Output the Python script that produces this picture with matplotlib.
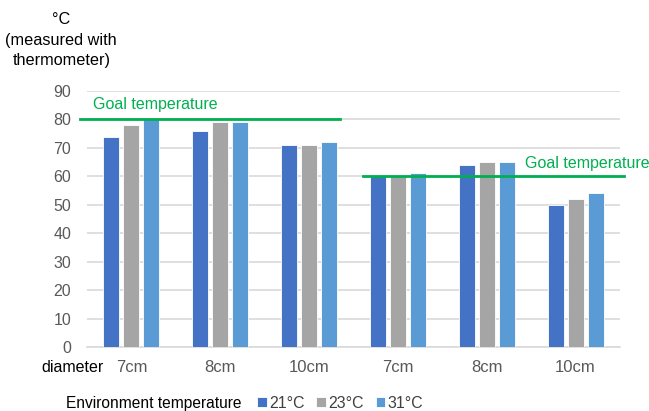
""" goal temperature bar chart """

import numpy as np
from matplotlib import pyplot as plt

# data
diameters = ['7cm', '8cm', '10cm', '7cm', '8cm', '10cm']
env_labels = ['21°C', '23°C', '31°C']
t21 = [74, 76, 71, 60, 64, 50]
t23 = [78, 79, 71, 60, 65, 52]
t31 = [80, 79, 72, 61, 65, 54]
goal_high = 80
goal_low = 60

colors = ['#4472C4', '#A5A5A5', '#5B9BD5']
green = '#00B050'
grey_txt = '#595959'

plt.rcParams['font.family'] = ['Liberation Sans', 'DejaVu Sans']

fig = plt.figure(figsize=(6.49, 4.11), dpi=100)
ax = fig.add_axes([87 / 649, 1 - 347 / 411, 533 / 649, 256 / 411])

x = np.arange(len(diameters))
w = 0.18
step = 0.225
for i, (vals, c, lab) in enumerate(zip([t21, t23, t31], colors, env_labels)):
    ax.bar(x + (i - 1) * step, vals, w, color=c, label=lab,
           edgecolor='white', linewidth=0.6, zorder=3)

ax.set_xlim(-0.5, 5.5)
ax.set_ylim(0, 90)
ax.set_yticks(range(0, 91, 10))
ax.grid(axis='y', color='#D9D9D9', linewidth=1.2, zorder=0)
for s in ['top', 'right', 'left']:
    ax.spines[s].set_visible(False)
ax.spines['bottom'].set_color('#D9D9D9')
ax.spines['bottom'].set_linewidth(1.2)
ax.tick_params(axis='both', length=0, labelcolor=grey_txt)
ax.tick_params(axis='y', pad=11.5, labelsize=11.5)
ax.tick_params(axis='x', pad=9, labelsize=12)
ax.set_xticks(x)
ax.set_xticklabels(diameters)

# goal lines
ax.plot([-0.58, 2.35], [goal_high, goal_high], color=green, lw=2,
        clip_on=False, zorder=4)
ax.plot([2.61, 5.54], [goal_low, goal_low], color=green, lw=2,
        clip_on=False, zorder=4)
fig.text(93 / 649, 1 - 104 / 411, 'Goal temperature', color=green,
         fontsize=11.5, va='center')
fig.text(525 / 649, 1 - 163 / 411, 'Goal temperature', color=green,
         fontsize=11.5, va='center')

# axis titles
fig.text(61 / 649, 1 - 20 / 411, '°C', fontsize=11.7, ha='center', va='center')
fig.text(61 / 649, 1 - 40 / 411, '(measured with', fontsize=11.7,
         ha='center', va='center')
fig.text(62 / 649, 1 - 60 / 411, 'thermometer)', fontsize=11.7,
         ha='center', va='center')
fig.text(72 / 649, 1 - 367 / 411, 'diameter', fontsize=11.5, ha='center',
         va='center')

# legend
fig.text(66 / 649, 1 - 403 / 411, 'Environment temperature', fontsize=11.2,
         va='center')
ax.legend(loc='center left', bbox_to_anchor=(257 / 649, 1 - 403 / 411),
          bbox_transform=fig.transFigure, ncol=3, frameon=False,
          fontsize=11.4, handlelength=0.6, handleheight=0.6,
          handletextpad=0.15, columnspacing=0.75, labelcolor='#404040',
          borderpad=0, borderaxespad=0)

fig.savefig('out.png', dpi=100)
